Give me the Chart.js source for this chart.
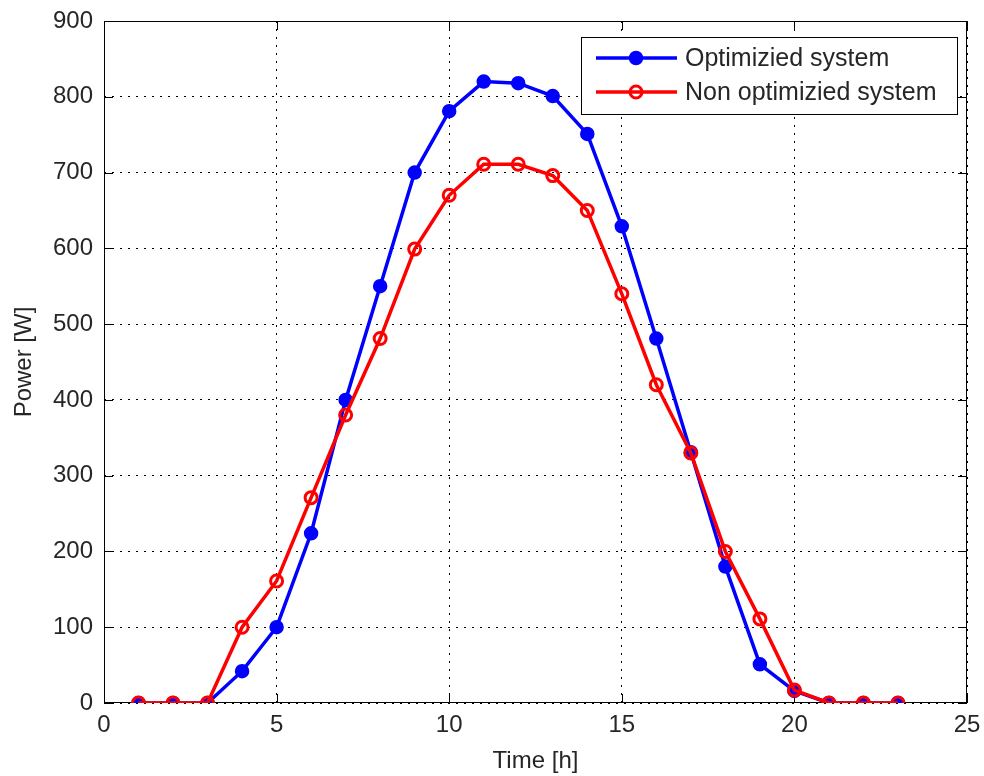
<!DOCTYPE html>
<html lang="en">
<head>
    <meta charset="UTF-8">
    <title>Power vs time</title>
    <style>
        body {
            margin: 0;
            background: #fff;
        }
        #chart {
            display: block;
        }
    </style>
    <script src="https://cdn.jsdelivr.net/npm/chart.js"></script>
</head>
<body>
    <canvas id="chart" width="984" height="776"></canvas>

    <script>
        // hourly power, both systems
        const hours = [1, 2, 3, 4, 5, 6, 7, 8, 9, 10, 11, 12, 13, 14, 15, 16, 17, 18, 19, 20, 21, 22, 23];
        const optimized = [0, 0, 0, 42, 100, 224, 400, 550, 700, 781, 820, 818, 801, 751, 629, 481, 331, 180, 51, 16, 0, 0, 0];
        const nonOptimized = [0, 0, 0, 100, 161, 271, 380, 481, 599, 670, 711, 711, 696, 650, 540, 420, 330, 200, 111, 17, 0, 0, 0];
        const seriesNames = ['Optimizied system', 'Non optimizied system'];

        const FONT = 'Liberation Sans, Arial, sans-serif';
        const TEXT = '#262626';

        function toPoints(values) {
            return hours.map((h, i) => ({ x: h, y: values[i] }));
        }

        // axes box with inward tick marks (on all four sides)
        const frame = {
            id: 'frame',
            beforeDatasetsDraw(chart) {
                const { ctx, chartArea: a, scales: { x, y } } = chart;
                const len = 9;
                ctx.save();
                ctx.strokeStyle = '#000';
                ctx.lineWidth = 1;
                ctx.strokeRect(a.left + 0.5, a.top + 0.5, a.right - a.left - 1, a.bottom - a.top - 1);
                ctx.beginPath();
                x.ticks.forEach(t => {
                    const px = Math.round(x.getPixelForValue(t.value)) + 0.5;
                    ctx.moveTo(px, a.bottom);
                    ctx.lineTo(px, a.bottom - len);
                    ctx.moveTo(px, a.top);
                    ctx.lineTo(px, a.top + len);
                });
                y.ticks.forEach(t => {
                    const py = Math.round(y.getPixelForValue(t.value)) + 0.5;
                    ctx.moveTo(a.left, py);
                    ctx.lineTo(a.left + len, py);
                    ctx.moveTo(a.right, py);
                    ctx.lineTo(a.right - len, py);
                });
                ctx.stroke();
                ctx.restore();
            }
        };

        // boxed legend in the upper right corner
        const boxLegend = {
            id: 'boxLegend',
            afterDraw(chart) {
                const { ctx } = chart;
                const box = { x: 581, y: 37, w: 376, h: 77 };
                const rows = [58, 92];
                ctx.save();
                ctx.fillStyle = '#fff';
                ctx.fillRect(box.x, box.y, box.w, box.h);
                ctx.strokeStyle = '#000';
                ctx.lineWidth = 1;
                ctx.strokeRect(box.x + 0.5, box.y + 0.5, box.w, box.h);

                chart.data.datasets.slice().sort((a, b) => a.legendIndex - b.legendIndex).forEach((ds, i) => {
                    const ry = rows[i];
                    ctx.strokeStyle = ds.borderColor;
                    ctx.lineWidth = ds.borderWidth;
                    ctx.beginPath();
                    ctx.moveTo(596, ry);
                    ctx.lineTo(677, ry);
                    ctx.stroke();
                    ctx.beginPath();
                    ctx.arc(636, ry, ds.pointRadius, 0, Math.PI * 2);
                    if (ds.pointBackgroundColor !== 'rgba(0,0,0,0)') {
                        ctx.fillStyle = ds.pointBackgroundColor;
                        ctx.fill();
                    }
                    ctx.lineWidth = ds.pointBorderWidth;
                    ctx.strokeStyle = ds.pointBorderColor;
                    ctx.stroke();

                    ctx.fillStyle = TEXT;
                    ctx.font = '25px ' + FONT;
                    ctx.textBaseline = 'middle';
                    ctx.textAlign = 'left';
                    ctx.fillText(ds.label, 685, ry + 1);
                });
                ctx.restore();
            }
        };

        const ctx = document.getElementById('chart').getContext('2d');
        new Chart(ctx, {
            type: 'line',
            data: {
                datasets: [{
                    label: seriesNames[0],
                    legendIndex: 0,
                    order: 1,
                    data: toPoints(optimized),
                    borderColor: '#0000ff',
                    borderWidth: 3.5,
                    pointRadius: 6.5,
                    pointBackgroundColor: '#0000ff',
                    pointBorderColor: '#0000ff',
                    pointBorderWidth: 1.5
                }, {
                    label: seriesNames[1],
                    legendIndex: 1,
                    order: 0,
                    data: toPoints(nonOptimized),
                    borderColor: '#ff0000',
                    borderWidth: 3.5,
                    pointRadius: 6,
                    pointBackgroundColor: 'rgba(0,0,0,0)',
                    pointBorderColor: '#ff0000',
                    pointBorderWidth: 3
                }]
            },
            options: {
                responsive: false,
                animation: false,
                layout: {
                    padding: { top: 21, right: 17, left: 0, bottom: 0 }
                },
                plugins: {
                    legend: { display: false },
                    tooltip: { enabled: false }
                },
                elements: {
                    line: { tension: 0 }
                },
                scales: {
                    x: {
                        type: 'linear',
                        min: 0,
                        max: 25,
                        afterFit(scale) {
                            scale.height = 73;
                            scale.paddingLeft = 0;
                            scale.paddingRight = 0;
                        },
                        ticks: {
                            stepSize: 5,
                            autoSkip: false,
                            maxRotation: 0,
                            padding: 8,
                            color: TEXT,
                            font: { family: FONT, size: 24 }
                        },
                        grid: {
                            color: '#000',
                            lineWidth: 1,
                            drawTicks: false
                        },
                        border: { display: false, dash: [2, 6] },
                        title: {
                            display: true,
                            text: 'Time [h]',
                            color: TEXT,
                            padding: { top: 0, bottom: 0 },
                            font: { family: FONT, size: 24 }
                        }
                    },
                    y: {
                        min: 0,
                        max: 900,
                        afterFit(scale) {
                            scale.width = 104;
                            scale.paddingTop = 0;
                            scale.paddingBottom = 0;
                        },
                        ticks: {
                            stepSize: 100,
                            autoSkip: false,
                            padding: 11,
                            color: TEXT,
                            font: { family: FONT, size: 24 }
                        },
                        grid: {
                            color: '#000',
                            lineWidth: 1,
                            drawTicks: false
                        },
                        border: { display: false, dash: [2, 6] },
                        title: {
                            display: true,
                            text: 'Power [W]',
                            color: TEXT,
                            padding: { top: 10, bottom: 0 },
                            font: { family: FONT, size: 24 }
                        }
                    }
                }
            },
            plugins: [frame, boxLegend]
        });
    </script>
</body>
</html>
